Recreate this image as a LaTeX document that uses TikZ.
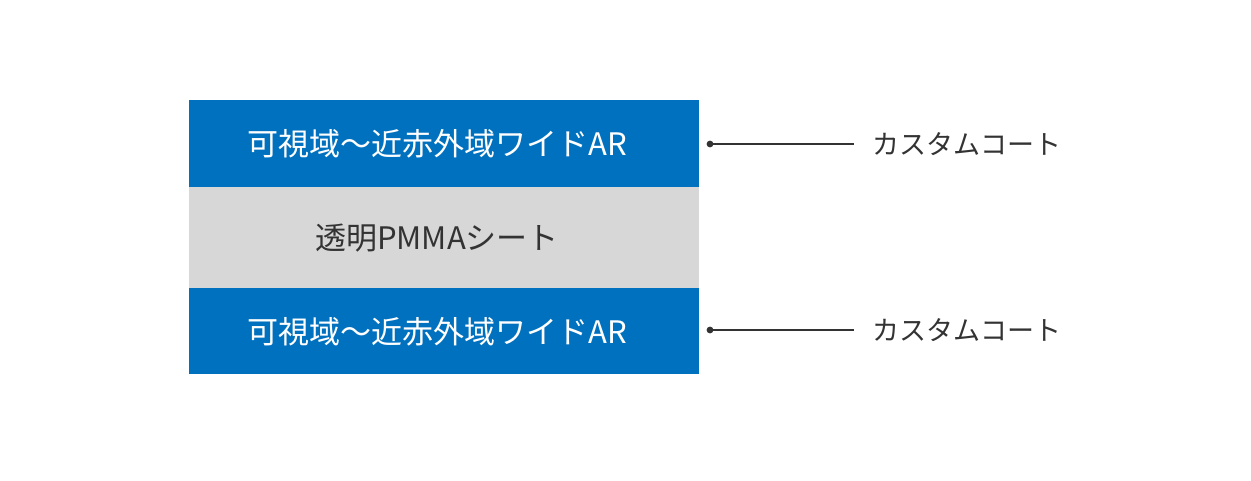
\documentclass[tikz,border=0pt]{standalone}
\usepackage{fontspec}
\usepackage{xcolor}
\usepackage{tikz}
\usetikzlibrary{positioning,calc}
\setmainfont{Noto Sans CJK JP}
\definecolor{coatBlue}{HTML}{0071BF}
\definecolor{sheetGray}{HTML}{D7D7D7}
\definecolor{inkGray}{HTML}{333333}

\begin{document}
\begin{tikzpicture}[
  x=1pt, y=-1pt,
  layer/.style={rectangle, minimum width=510pt, inner ysep=0pt, inner xsep=0pt, font=\fontsize{31}{36}\selectfont, text=white, fill=coatBlue},
  sheet/.style={layer, fill=sheetGray, text=inkGray},
  tag/.style={inner xsep=18pt, inner ysep=0pt, anchor=west, font=\fontsize{27}{32}\selectfont, text=inkGray},
  lead/.style={draw=inkGray, line width=1.2pt}
]
\useasboundingbox (0,0) rectangle (1251,481);
\node[layer, minimum height=87pt] (top) at (444,144) {可視域～近赤外域ワイドAR\hspace*{14pt}};
\node[sheet, minimum height=102pt, below=-1pt of top] (core) {透明PMMAシート\hspace*{14pt}};
\node[layer, minimum height=86pt, below=-1pt of core] (bottom) {可視域～近赤外域ワイドAR\hspace*{14pt}};
% coating callouts
\coordinate (dot1) at (710,144);
\coordinate (dot2) at (710,330);
\node[tag] (coat1) at (854,144) {カスタムコート};
\node[tag] (coat2) at (854,330) {カスタムコート};
\draw[lead] (dot1) -- (coat1);
\draw[lead] (dot2) -- (coat2);
\fill[inkGray] (dot1) circle (3.4pt);
\fill[inkGray] (dot2) circle (3.4pt);
\end{tikzpicture}
\end{document}
